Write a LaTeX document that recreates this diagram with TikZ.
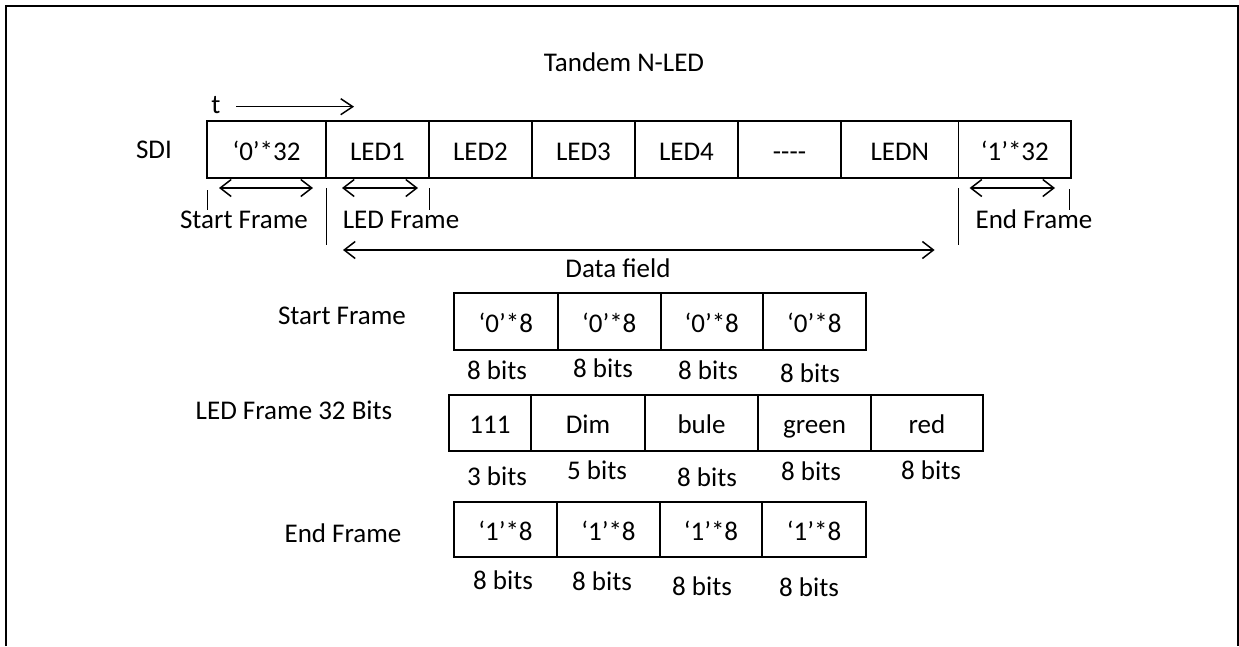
\documentclass[tikz,border=0pt]{standalone}
\usepackage{fontspec}
\setmainfont{Carlito}
\usetikzlibrary{arrows.meta, positioning, calc}

\begin{document}
\begin{tikzpicture}[
    x=1pt, y=-1pt,
    font=\fontsize{27}{32}\selectfont,
    cell/.style={draw, line width=1.6pt, outer sep=0pt, inner sep=0pt,
                 text height=24pt, text depth=3pt,
                 minimum height=57pt, minimum width=103pt, anchor=west},
    span/.style={line width=1.5pt,
                 {Straight Barb[length=11pt, width=17pt]}-{Straight Barb[length=11pt, width=17pt]}},
    timeline/.style={line width=1.5pt, -{Straight Barb[length=12pt, width=16pt]}},
    tick/.style={line width=1pt}
]
    \useasboundingbox (0,0) rectangle (1239,646);
    \draw[line width=2pt] (6,646) -- (6,6) -- (1237.5,6) -- (1237.5,646);

    \node (title) at (624,62) {Tandem N-LED};

    % serial stream
    \node (t) at (216,105.5) {t};
    \node (sdi) at (154,150) {SDI};
    \node[cell, minimum width=119pt] (z32) at (207,149.5) {‘0’*32};
    \node[cell, right=0pt of z32] (led1) {LED1};
    \node[cell, right=0pt of led1] (led2) {LED2};
    \node[cell, right=0pt of led2] (led3) {LED3};
    \node[cell, right=0pt of led3] (led4) {LED4};
    \node[cell, right=0pt of led4] (dots) {-{}-{}-{}-};
    \node[cell, minimum width=117.6pt, right=0pt of dots] (ledn) {LEDN};
    \node[cell, minimum width=112.4pt, right=0pt of ledn] (o32) {‘1’*32};

    \draw[timeline] ($(t.east)+(12,1.2)$) -- ($(t.east)+(130,1.2)$);

    \draw[span] ($(z32.south west)+(12,10)$) -- ($(z32.south east)+(-13,10)$);
    \draw[tick] ($(z32.south west)+(0,12)$) -- ++(0,20);
    \draw[tick] ($(z32.south east)+(0,10)$) -- ++(0,57);
    \draw[span] ($(led1.south west)+(16,10)$) -- ($(led1.south east)+(-11,10)$);
    \draw[tick] ($(led1.south east)+(0,10)$) -- ++(0,22);
    \draw[span] ($(led1.south west)+(17,72)$) -- ($(ledn.south east)+(-24,72)$);
    \draw[tick] ($(o32.south west)+(0,10)$) -- ++(0,57);
    \draw[span] ($(o32.south west)+(11,10)$) -- ($(o32.south east)+(-16,10)$);
    \draw[tick] ($(o32.south east)+(-2,11)$) -- ++(0,21);

    \node (startlbl) at (244,220) {Start Frame};
    \node (ledlbl) at (401,220) {LED Frame};
    \node (datalbl) at (618,268) {Data field};
    \node (endlbl) at (1034,219) {End Frame};

    % start frame
    \node (sfname) at (342,316) {Start Frame};
    \node[cell, minimum width=103.7pt] (sf1) at (454,321.5) {‘0’*8};
    \node[cell, right=0pt of sf1] (sf2) {‘0’*8};
    \node[cell, minimum width=102pt, right=0pt of sf2] (sf3) {‘0’*8};
    \node[cell, minimum width=103.3pt, right=0pt of sf3] (sf4) {‘0’*8};
    \node (sfb1) at (497,370) {8 bits};
    \node (sfb2) at (603,368) {8 bits};
    \node (sfb3) at (708,370) {8 bits};
    \node (sfb4) at (810,373) {8 bits};

    % LED frame
    \node (lfname) at (294,410) {LED Frame 32 Bits};
    \node[cell, minimum width=82pt, minimum height=56pt] (lf1) at (449,423) {111};
    \node[cell, minimum width=114pt, minimum height=56pt, right=0pt of lf1] (lf2) {Dim};
    \node[cell, minimum width=113pt, minimum height=56pt, right=0pt of lf2] (lf3) {bule};
    \node[cell, minimum width=113pt, minimum height=56pt, right=0pt of lf3] (lf4) {green};
    \node[cell, minimum width=112pt, minimum height=56pt, right=0pt of lf4] (lf5) {red};
    \node (lfb1) at (497,476) {3 bits};
    \node (lfb2) at (597,470) {5 bits};
    \node (lfb3) at (707,477) {8 bits};
    \node (lfb4) at (811,471) {8 bits};
    \node (lfb5) at (931,470) {8 bits};

    % end frame
    \node (efname) at (343,533) {End Frame};
    \node[cell, minimum height=55pt] (ef1) at (454,529.5) {‘1’*8};
    \node[cell, minimum height=55pt, right=0pt of ef1] (ef2) {‘1’*8};
    \node[cell, minimum height=55pt, minimum width=102pt, right=0pt of ef2] (ef3) {‘1’*8};
    \node[cell, minimum height=55pt, minimum width=104pt, right=0pt of ef3] (ef4) {‘1’*8};
    \node (efb1) at (503,580) {8 bits};
    \node (efb2) at (602,581) {8 bits};
    \node (efb3) at (702,586) {8 bits};
    \node (efb4) at (809,587) {8 bits};
\end{tikzpicture}
\end{document}
